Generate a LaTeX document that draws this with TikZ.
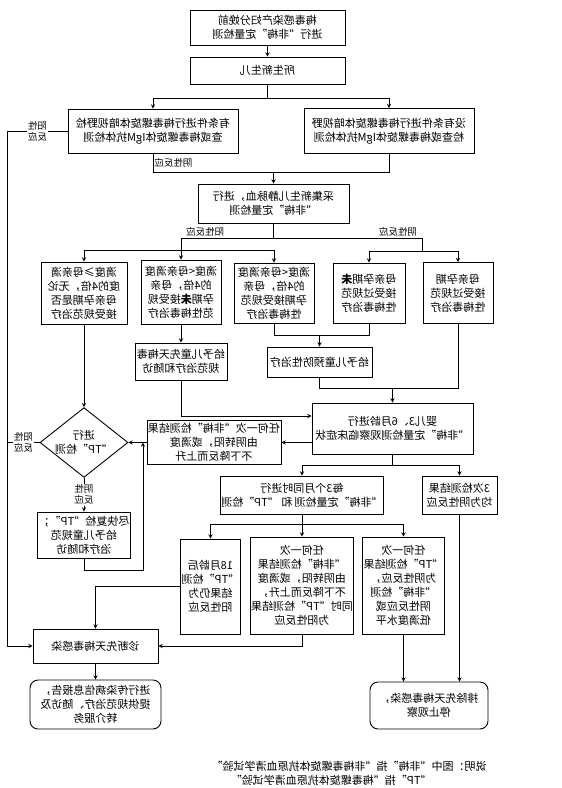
\documentclass[tikz,border=0pt]{standalone}
\usepackage{fontspec}
\setmainfont{Noto Sans CJK SC}
\usetikzlibrary{shapes.geometric}

\begin{document}
\begin{tikzpicture}[x=1pt, y=-1pt, xscale=-1, line width=0.9pt, >=stealth,
  font=\fontsize{11}{14}\selectfont,
  every node/.append style={transform shape},
  Box/.style={draw, align=center, inner sep=1pt},
  Outcome/.style={Box, rounded corners=8pt},
  Decision/.style={draw, diamond, aspect=1.26, align=center, inner sep=0pt, minimum width=77, minimum height=61},
  Label/.style={align=center, inner sep=1pt, font=\fontsize{9.5}{11}\selectfont},
  Gap/.style={Label, fill=white}]

\useasboundingbox (0,0) rectangle (562,788);

\node [Box, minimum width=155, minimum height=35] (prenatal) at (294.5,27.5) {梅毒感染产妇分娩前\\进行“非梅”定量检测};
\node [Box, minimum width=155, minimum height=27] (newborn) at (294.5,70.5) {所生新生儿};
\node [Box, minimum width=170, minimum height=44] (darkfield) at (409,131) {有条件进行梅毒螺旋体暗视野检\\查或梅毒螺旋体IgM抗体检测};
\node [Box, minimum width=170, minimum height=45] (nodarkfield) at (173,131) {没有条件进行梅毒螺旋体暗视野\\检查或梅毒螺旋体IgM抗体检测};
\node [Box, minimum width=151, minimum height=39] (venous) at (288.5,203.5) {采集新生儿静脉血，进行\\“非梅”定量检测};

\node [Box, minimum width=86, minimum height=62] (titer4) at (478,293) {滴度≥母亲滴\\度的4倍，无论\\母亲孕期是否\\接受规范治疗};
\node [Box, minimum width=80, minimum height=64] (untreated) at (381,292) {滴度<母亲滴度\\的4倍，母亲\\孕期\textbf{未}接受规\\范性梅毒治疗};
\node [Box, minimum width=80, minimum height=60] (treated) at (288,293) {滴度<母亲滴度\\的4倍，母亲\\孕期接受规范\\性梅毒治疗};
\node [Box, minimum width=72, minimum height=60] (motheruntreated) at (193,293) {母亲孕期\textbf{未}\\接受过规范\\性梅毒治疗};
\node [Box, minimum width=70, minimum height=61] (mothertreated) at (104,293) {母亲孕期\\接受过规范\\性梅毒治疗};

\node [Box, minimum width=92, minimum height=37] (therapy) at (381,361.5) {给予儿童先天梅毒\\规范治疗和随访};
\node [Box, minimum width=105, minimum height=30] (prophylaxis) at (242.5,362) {给予儿童预防性治疗};
\node [Box, minimum width=161, minimum height=51] (followup) at (169.5,428.5) {婴儿3、6月龄进行\\“非梅”定量检测观察临床症状};
\node [Box, minimum width=134, minimum height=44] (rise) at (348,442.5) {任何一次“非梅”检测结果\\由阴转阳，或滴度\\不下降反而上升};
\node [Decision] (tptest) at (478,442.5) {进行\\“TP”检测};
\node [Box, minimum width=90, minimum height=46] (retest) at (478,535) {尽快复检“TP”；\\给予儿童规范\\治疗和随访};

\node [Box, minimum width=153, minimum height=38] (quarterly) at (260,495) {每3个月同时进行\\“非梅”定量检测 和 “TP”检测};
\node [Box, minimum width=75, minimum height=38] (negative3) at (102.5,495) {3次检测结果\\均为阴性反应};
\node [Box, minimum width=53, minimum height=95] (tp18) at (351.5,586.5) {18月龄后\\“TP”检测\\结果仍为\\阳性反应};
\node [Box, minimum width=102, minimum height=97] (conversion) at (260,585.5) {任何一次\\“非梅”检测结果\\由阴转阳，或滴度\\不下降反而上升，\\同时“TP”检测结果\\为阳性反应};
\node [Box, minimum width=77, minimum height=97] (tpnegative) at (158.5,585.5) {任何一次\\“TP”检测结果\\为阴性反应，\\“非梅”检测\\阴性反应或\\低滴度水平};

\node [Box, minimum width=125, minimum height=34] (diagnosis) at (466.5,646) {诊断先天梅毒感染};
\node [Outcome, minimum width=131, minimum height=49] (report) at (466.5,704.5) {进行传染病信息报告，\\提供规范治疗、随访及\\转介服务};
\node [Outcome, minimum width=118, minimum height=47] (exclude) at (133,705.5) {排除先天梅毒感染，\\停止观察};

\node [anchor=north west, align=left, inner sep=0pt] (note) at (75,761) {说明：图中“非梅”指“非梅毒螺旋体抗原血清学试验”\\\phantom{说明：图中}“TP”指“梅毒螺旋体抗原血清学试验”};

% top part
\coordinate (split) at (294.5,98);
\coordinate (merge) at (288.5,172);
\coordinate (trunk) at (555,131);
\draw [->] (prenatal) -- (newborn);
\draw (newborn) -- (split);
\draw [->] (split) -| (darkfield);
\draw [->] (split) -| (nodarkfield);
\draw (darkfield) |- node [Label, pos=0.25, left] {阴性反应} (merge -| nodarkfield) -- (nodarkfield);
\draw [->] (merge) -- (venous);
\draw [->] (darkfield) -- node [Gap] {阳性\\反应} (trunk) |- (diagnosis);

% serology of the newborn
\coordinate (branch) at (288.5,238);
\coordinate (pos) at (381,238);
\coordinate (neg) at (140,238);
\coordinate (posrow) at (381,250);
\coordinate (negrow) at (140,251);
\draw (venous) -- (branch);
\draw (pos) -- node [Label, pos=0.1, above] {阳性反应} node [Label, pos=0.9, above] {阴性反应} (neg);
\draw (pos) -- (posrow);
\draw (neg) -- (negrow);
\draw (titer4 |- posrow) -- (treated |- posrow);
\draw (motheruntreated |- negrow) -- (mothertreated |- negrow);
\foreach \n in {titer4, untreated, treated} {
  \draw [->] (\n |- posrow) -- (\n);
}
\foreach \n in {motheruntreated, mothertreated} {
  \draw [->] (\n |- negrow) -- (\n);
}

% treatment and follow-up
\coordinate (join) at (242.5,335);
\coordinate (join2) at (169.5,388);
\coordinate (loop) at (419,570);
\draw [->] (titer4) -- (tptest);
\draw [->] (untreated) -- (therapy);
\draw (treated) |- (motheruntreated |- join) -- (motheruntreated);
\draw [->] (join) -- (prophylaxis);
\draw (prophylaxis) |- (mothertreated |- join2) -- (mothertreated);
\draw [->] (join2) -- (followup);
\draw [->] (therapy) |- ([yshift=12.5pt]followup.east);
\draw [->] (followup.east |- rise) -- (rise);
\draw [->] (rise) -- (tptest);
\draw (tptest) -- node [Gap] {阳性\\反应} (tptest -| trunk);
\draw [->] (tptest) -- node [Gap] {阴性\\反应} (retest);
\draw [->] (retest) |- (loop) -- (loop |- tptest);

% 3, 6 months and later
\coordinate (split3) at (169.5,465);
\coordinate (split4) at (260,524);
\draw (followup) -- (split3);
\draw [->] (split3) -| (quarterly);
\draw [->] (split3) -| (negative3);
\draw (quarterly) -- (split4);
\draw [->] (split4) -| (tp18);
\draw [->] (split4) -| (tpnegative);
\draw [->] (split4) -- (conversion);
\draw [->] (tp18) -| (diagnosis);
\draw [->] (conversion) |- (diagnosis);
\draw [->] (diagnosis) -- (report);
\draw [->] (tpnegative) -- (tpnegative |- exclude.north);
\draw [->] (negative3) -- (negative3 |- exclude.north);
\end{tikzpicture}
\end{document}
